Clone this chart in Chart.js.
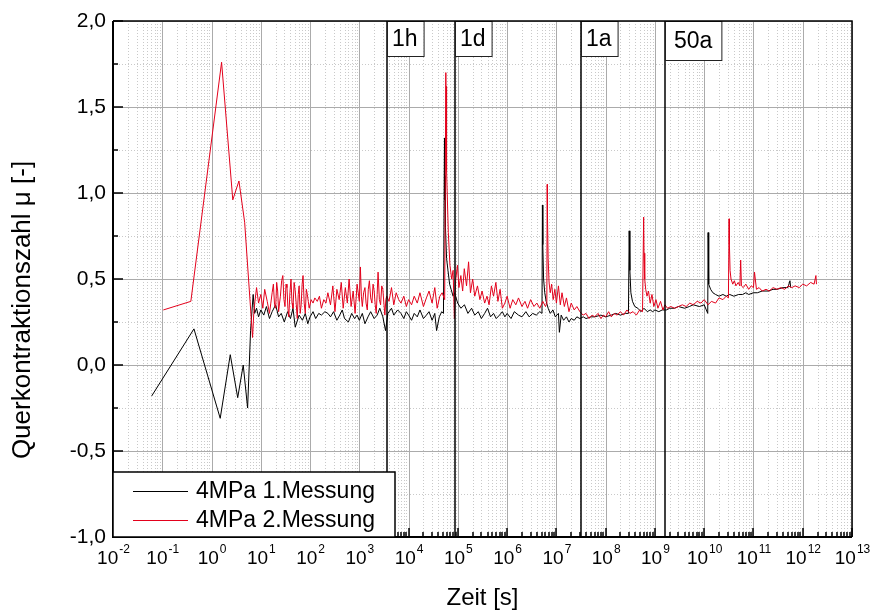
<!DOCTYPE html>
<html>
<head>
<meta charset="utf-8">
<script src="https://cdn.jsdelivr.net/npm/chart.js@4.4.1/dist/chart.umd.min.js"></script>
<style>
html,body{margin:0;padding:0;background:#fff;}
#c{display:block;}
</style>
</head>
<body>
<canvas id="c" width="871" height="613"></canvas>
<script>
// ---------------- data (time in s, Querkontraktionszahl) ----------------
const seriesNames = ['4MPa 1.Messung', '4MPa 2.Messung'];

const messung1 = [
 [6.1e-2,-0.18],[0.44,0.21],[1.5,-0.31],[2.4,0.06],[3.4,-0.19],[4.4,0.00],[5.4,-0.25],[6.2,0.20],[7.0,0.41],
 [7.5,0.30],[8.2,0.33],[9.0,0.28],[10,0.32],[11.5,0.29],[13,0.34],[15,0.27],[17,0.31],[20,0.35],[23,0.28],
 [26,0.30],[30,0.25],[35,0.31],[40,0.27],[45,0.33],[50,0.22],[60,0.29],[70,0.26],[80,0.30],[90,0.24],
 [100,0.28],[115,0.31],[130,0.27],[150,0.30],[170,0.29],[200,0.31],[230,0.30],[260,0.28],[300,0.31],
 [350,0.26],[400,0.29],[450,0.32],[500,0.27],[600,0.25],[700,0.30],[800,0.27],[900,0.29],
 [1000,0.26],[1150,0.30],[1300,0.24],[1500,0.28],[1700,0.31],[2000,0.27],[2300,0.29],[2600,0.33],
 [3000,0.28],[3400,0.20],[3800,0.30],[4500,0.33],[5000,0.29],[6000,0.32],[7000,0.30],[8000,0.27],[9000,0.31],
 [1.0e4,0.29],[1.15e4,0.26],[1.3e4,0.30],[1.5e4,0.28],[1.7e4,0.32],[2.0e4,0.27],[2.3e4,0.29],[2.6e4,0.31],
 [3.0e4,0.26],[3.4e4,0.30],[3.7e4,0.20],[4.2e4,0.28],[4.7e4,0.31],[5.1e4,0.30],
 [5.35e4,1.32],[5.4e4,0.96],[5.5e4,1.10],[5.6e4,0.80],[5.9e4,0.62],[6.3e4,0.55],[6.8e4,0.47],[7.3e4,0.44],
 [8.0e4,0.40],[8.6e4,0.42],[9.9e4,0.36],[1.15e5,0.33],[1.36e5,0.35],
 [1.6e5,0.30],[1.9e5,0.33],[2.2e5,0.29],[2.6e5,0.31],[3.0e5,0.27],[3.5e5,0.30],[4.0e5,0.33],[4.6e5,0.28],
 [5.3e5,0.30],[6.0e5,0.27],[7.0e5,0.29],[8.0e5,0.31],[9.0e5,0.28],
 [1.0e6,0.30],[1.2e6,0.27],[1.4e6,0.31],[1.7e6,0.29],[2.0e6,0.28],[2.4e6,0.31],[2.8e6,0.28],[3.3e6,0.30],
 [3.9e6,0.29],[4.6e6,0.31],[5.1e6,0.30],
 [5.2e6,0.93],[5.3e6,0.70],[5.5e6,0.50],[5.8e6,0.42],[6.2e6,0.37],[6.8e6,0.33],[7.5e6,0.30],[8.5e6,0.32],
 [9.5e6,0.28],[1.1e7,0.30],[1.15e7,0.19],[1.25e7,0.29],[1.4e7,0.26],[1.6e7,0.28],[1.8e7,0.25],[2.0e7,0.27],
 [2.3e7,0.26],[2.6e7,0.28],[3.0e7,0.27],[3.5e7,0.28],[4.0e7,0.27],[5e7,0.28],[6e7,0.28],[8e7,0.29],
 [1e8,0.28],[1.3e8,0.29],[1.6e8,0.30],[2.0e8,0.29],[2.5e8,0.30],[2.9e8,0.30],
 [3.0e8,0.78],[3.1e8,0.55],[3.25e8,0.42],[3.5e8,0.37],[3.9e8,0.34],[4.5e8,0.33],[5.2e8,0.31],[6e8,0.33],
 [7e8,0.31],[8e8,0.32],[9e8,0.31],
 [1.0e9,0.32],[1.2e9,0.31],[1.4e9,0.32],[1.7e9,0.32],[2.0e9,0.33],[2.5e9,0.33],[3e9,0.34],[4e9,0.33],
 [5e9,0.34],[6e9,0.35],[8e9,0.34],[1.0e10,0.35],[1.18e10,0.30],
 [1.2e10,0.77],[1.22e10,0.55],[1.25e10,0.47],[1.35e10,0.44],[1.5e10,0.42],[1.7e10,0.41],[2e10,0.40],
 [2.4e10,0.41],[2.8e10,0.40],[3.3e10,0.41],[4e10,0.40],[5e10,0.41],[6e10,0.41],[7e10,0.42],[8e10,0.41],
 [1e11,0.42],[1.2e11,0.42],[1.5e11,0.43],[2e11,0.43],[2.5e11,0.44],[3e11,0.44],[4e11,0.45],[5e11,0.45],
 [5.5e11,0.49],[5.7e11,0.45]
];

const messung2 = [
 [0.105,0.32],[0.38,0.37],[1.6,1.76],[2.7,0.96],[3.6,1.07],[4.7,0.83],[6.8,0.16],
 [7.2,0.30],[7.6,0.37],[8.2,0.45],[9.0,0.36],
 [10,0.41],[11,0.33],[12,0.44],[13.5,0.37],[15,0.30],[16,0.36],[17,0.42],[18,0.47],[19,0.35],[20,0.33],
 [21,0.48],[22,0.43],[23,0.31],[24,0.36],[25,0.40],[26.5,0.49],[28,0.52],[29.5,0.38],[31,0.34],[32.5,0.47],
 [34,0.45],[35.5,0.33],[37,0.28],[39,0.42],[41,0.50],[43,0.36],[45,0.33],[47.5,0.48],[50,0.43],[52.5,0.35],
 [55,0.27],[57.5,0.41],[60,0.46],[63,0.30],[66,0.35],[69,0.47],[72,0.52],[76,0.36],[80,0.30],[84,0.44],
 [88,0.41],[92,0.37],[96,0.33],
 [105,0.38],[115,0.36],[125,0.39],[140,0.37],[155,0.40],[170,0.33],[190,0.38],[210,0.36],[230,0.42],
 [260,0.35],[290,0.46],[320,0.31],[350,0.44],[390,0.38],[430,0.48],[470,0.33],[520,0.45],[570,0.36],
 [620,0.50],[680,0.34],[750,0.43],[820,0.30],[900,0.47],
 [1000,0.37],[1050,0.57],[1100,0.40],[1150,0.34],[1220,0.42],[1300,0.45],[1370,0.36],[1450,0.32],
 [1520,0.44],[1600,0.49],[1700,0.39],[1800,0.36],[1900,0.47],[2000,0.43],[2100,0.35],[2200,0.30],
 [2300,0.41],[2400,0.54],[2550,0.38],[2700,0.35],[2850,0.46],[3000,0.44],[3150,0.36],[3300,0.29],
 [3450,0.38],[3600,0.40],[4000,0.37],[4500,0.45],
 [5000,0.35],[5600,0.42],[6300,0.38],[7000,0.36],[8000,0.40],[9000,0.34],
 [1.0e4,0.38],[1.15e4,0.35],[1.3e4,0.40],[1.5e4,0.36],[1.7e4,0.42],[2.0e4,0.34],[2.3e4,0.39],[2.6e4,0.43],
 [3.0e4,0.36],[3.4e4,0.45],[3.8e4,0.33],[4.3e4,0.40],[4.8e4,0.42],[5.4e4,0.38],
 [5.7e4,1.70],[5.75e4,1.45],[5.8e4,1.62],[6.0e4,1.13],[6.4e4,0.77],[6.9e4,0.58],[7.5e4,0.50],[8.0e4,0.55],
 [8.5e4,0.27],[9.0e4,0.49],[9.8e4,0.58],[1.05e5,0.45],[1.15e5,0.52],[1.25e5,0.43],[1.35e5,0.56],
 [1.5e5,0.46],[1.65e5,0.60],[1.8e5,0.42],[2.0e5,0.50],[2.2e5,0.40],[2.5e5,0.46],[2.8e5,0.38],[3.1e5,0.43],
 [3.5e5,0.36],[3.9e5,0.40],[4.3e5,0.35],[4.8e5,0.46],[5.3e5,0.40],[5.9e5,0.48],[6.5e5,0.37],[7.2e5,0.44],
 [8.0e5,0.33],[9.0e5,0.36],
 [1.0e6,0.40],[1.15e6,0.33],[1.3e6,0.38],[1.5e6,0.35],[1.7e6,0.39],[2.0e6,0.34],[2.3e6,0.37],[2.6e6,0.33],
 [3.0e6,0.38],[3.5e6,0.34],[4.0e6,0.36],[4.6e6,0.33],[5.3e6,0.37],[6.0e6,0.34],[6.4e6,0.36],
 [6.5e6,1.05],[6.6e6,0.85],[6.8e6,0.62],[7.1e6,0.48],[7.5e6,0.42],[8.0e6,0.47],[8.6e6,0.38],[9.3e6,0.44],
 [1.0e7,0.36],[1.1e7,0.46],[1.2e7,0.35],[1.3e7,0.42],[1.45e7,0.34],[1.6e7,0.39],[1.8e7,0.31],[2.0e7,0.36],
 [2.3e7,0.32],[2.6e7,0.34],[3.0e7,0.31],[3.5e7,0.29],[4.0e7,0.30],[4.6e7,0.27],[5.3e7,0.29],[6.0e7,0.28],
 [7.0e7,0.30],[8.0e7,0.27],[9.0e7,0.29],
 [1.0e8,0.28],[1.15e8,0.31],[1.3e8,0.28],[1.5e8,0.30],[1.7e8,0.29],[2.0e8,0.31],[2.3e8,0.29],[2.7e8,0.32],
 [3.1e8,0.30],[3.6e8,0.31],[4.2e8,0.29],[4.9e8,0.32],[5.6e8,0.31],
 [5.9e8,0.86],[6.0e8,0.65],[6.2e8,0.50],[6.5e8,0.44],[6.9e8,0.40],[7.4e8,0.43],[8.0e8,0.36],[8.7e8,0.41],
 [9.5e8,0.34],[1.05e9,0.38],[1.15e9,0.33],[1.3e9,0.37],[1.45e9,0.32],[1.6e9,0.35],[1.8e9,0.33],[2.1e9,0.34],
 [2.5e9,0.33],[3.0e9,0.34],[3.6e9,0.35],[4.3e9,0.34],[5.1e9,0.36],[6.0e9,0.35],[7.2e9,0.37],[8.6e9,0.36],
 [1.0e10,0.38],[1.2e10,0.35],[1.4e10,0.37],[1.7e10,0.36],[2.0e10,0.39],[2.4e10,0.38],[2.8e10,0.40],[3.1e10,0.39],
 [3.2e10,0.85],[3.25e10,0.70],[3.35e10,0.55],[3.5e10,0.50],[3.8e10,0.47],[4.1e10,0.49],[4.4e10,0.46],
 [4.9e10,0.48],[5.3e10,0.46],[5.5e10,0.61],[5.7e10,0.46],[6.2e10,0.45],[7e10,0.47],[8e10,0.44],[9e10,0.46],
 [1.0e11,0.45],[1.05e11,0.54],[1.15e11,0.44],[1.3e11,0.45],[1.5e11,0.43],[1.8e11,0.44],[2.1e11,0.43],
 [2.5e11,0.45],[3e11,0.44],[3.6e11,0.45],[4.3e11,0.44],[5.1e11,0.46],[6e11,0.45],[7e11,0.46],[8.5e11,0.45],
 [1e12,0.47],[1.2e12,0.46],[1.45e12,0.48],[1.7e12,0.47],[1.85e12,0.52],[1.9e12,0.47]
];

// axis ticks
const xDecades = [-2,-1,0,1,2,3,4,5,6,7,8,9,10,11,12,13];
const yTickValues = [-1,-0.5,0,0.5,1,1.5,2];
const yMinorValues = [-0.75,-0.25,0.25,0.75,1.25,1.75];

// time markers
const markerLabels = ['1h','1d','1a','50a'];
const markerTimes = [3600, 86400, 31536000, 1576800000];

const xTitle = 'Zeit [s]';
const yTitle = 'Querkontraktionszahl \u03bc [-]';

// ---------------- styles ----------------
const FONT = '"Liberation Sans", Arial, sans-serif';
const colors = ['#000000', '#e3001b'];

const decorations = {
  id: 'decorations',
  beforeDatasetsDraw(chart) {
    const {ctx, chartArea: a, scales: {x, y}} = chart;
    ctx.save();
    ctx.lineWidth = 1;
    // minor dotted grid
    ctx.strokeStyle = '#c9c9c9';
    ctx.setLineDash([1, 2]);
    ctx.beginPath();
    for (let i = 0; i < xDecades.length - 1; i++) {
      for (let m = 2; m <= 9; m++) {
        const px = Math.round(x.getPixelForValue(m * Math.pow(10, xDecades[i]))) + 0.5;
        ctx.moveTo(px, a.top); ctx.lineTo(px, a.bottom);
      }
    }
    for (const v of yMinorValues) {
      const py = Math.round(y.getPixelForValue(v)) + 0.5;
      ctx.moveTo(a.left, py); ctx.lineTo(a.right, py);
    }
    ctx.stroke();
    // major grid
    ctx.setLineDash([]);
    ctx.strokeStyle = '#ababab';
    ctx.beginPath();
    for (const e of xDecades) {
      const px = Math.round(x.getPixelForValue(Math.pow(10, e))) + 0.5;
      ctx.moveTo(px, a.top); ctx.lineTo(px, a.bottom);
    }
    for (const v of yTickValues) {
      const py = Math.round(y.getPixelForValue(v)) + 0.5;
      ctx.moveTo(a.left, py); ctx.lineTo(a.right, py);
    }
    ctx.stroke();
    ctx.restore();
  },
  afterDatasetsDraw(chart) {
    const {ctx, chartArea: a, scales: {x, y}} = chart;
    ctx.save();
    // time markers
    ctx.strokeStyle = '#000';
    ctx.lineWidth = 1.5;
    markerTimes.forEach((t, i) => {
      const px = Math.round(x.getPixelForValue(t));
      ctx.beginPath(); ctx.moveTo(px, a.top); ctx.lineTo(px, a.bottom); ctx.stroke();
    });
    ctx.font = '23px ' + FONT;
    ctx.textBaseline = 'middle';
    ctx.textAlign = 'left';
    markerTimes.forEach((t, i) => {
      const px = Math.round(x.getPixelForValue(t));
      const big = markerLabels[i].length > 2;
      const w = ctx.measureText(markerLabels[i]).width + (big ? 18 : 11);
      const h = big ? 39 : 35;
      ctx.fillStyle = '#fff';
      ctx.fillRect(px, a.top, w, h);
      ctx.lineWidth = 1;
      ctx.strokeStyle = '#222';
      ctx.strokeRect(px + 0.5, a.top + 0.5, w, h);
      ctx.fillStyle = '#000';
      ctx.fillText(markerLabels[i], px + (big ? 9 : 5), a.top + h / 2 + 1);
    });
    // frame
    ctx.strokeStyle = '#000';
    ctx.lineWidth = 1.5;
    ctx.beginPath();
    ctx.moveTo(a.left, a.top); ctx.lineTo(a.right, a.top); ctx.lineTo(a.right, a.bottom);
    ctx.stroke();
    ctx.lineWidth = 2;
    ctx.beginPath();
    ctx.moveTo(a.left, a.top); ctx.lineTo(a.left, a.bottom); ctx.lineTo(a.right, a.bottom);
    ctx.stroke();
    // inward ticks
    ctx.lineWidth = 1.5;
    ctx.beginPath();
    for (let i = 0; i < xDecades.length; i++) {
      const px = Math.round(x.getPixelForValue(Math.pow(10, xDecades[i])));
      ctx.moveTo(px, a.bottom); ctx.lineTo(px, a.bottom - 9);
      if (i < xDecades.length - 1) {
        for (let m = 2; m <= 9; m++) {
          const pm = Math.round(x.getPixelForValue(m * Math.pow(10, xDecades[i])));
          ctx.moveTo(pm, a.bottom); ctx.lineTo(pm, a.bottom - 5);
        }
      }
    }
    for (const v of yTickValues) {
      const py = Math.round(y.getPixelForValue(v));
      ctx.moveTo(a.left, py); ctx.lineTo(a.left + 10, py);
    }
    for (const v of yMinorValues) {
      const py = Math.round(y.getPixelForValue(v));
      ctx.moveTo(a.left, py); ctx.lineTo(a.left + 5, py);
    }
    ctx.stroke();
    // x tick labels 10^n
    ctx.fillStyle = '#000';
    ctx.textBaseline = 'middle';
    ctx.textAlign = 'left';
    for (const e of xDecades) {
      const px = x.getPixelForValue(Math.pow(10, e));
      ctx.font = '19px ' + FONT;
      const wb = ctx.measureText('10').width;
      const ex = e < 0 ? '-' + Math.abs(e) : String(e);
      ctx.font = '12px ' + FONT;
      const we = ctx.measureText(ex).width;
      const x0 = px - (wb + we) / 2;
      ctx.font = '19px ' + FONT;
      ctx.fillText('10', x0, a.bottom + 22);
      ctx.font = '12px ' + FONT;
      ctx.fillText(ex, x0 + wb + 1, a.bottom + 13);
    }
    // legend
    const lx = a.left, ly = a.bottom - 65, lw = 282, lh = 65;
    ctx.fillStyle = '#fff';
    ctx.fillRect(lx, ly, lw, lh);
    ctx.strokeStyle = '#000';
    ctx.lineWidth = 1.5;
    ctx.strokeRect(lx, ly, lw, lh);
    ctx.font = '23px ' + FONT;
    seriesNames.forEach((n, i) => {
      const yy = ly + 19 + i * 29;
      ctx.strokeStyle = colors[i];
      ctx.lineWidth = 1;
      ctx.beginPath(); ctx.moveTo(lx + 20, yy + 0.5); ctx.lineTo(lx + 75, yy + 0.5); ctx.stroke();
      ctx.fillStyle = '#000';
      ctx.fillText(n, lx + 83, yy + 1);
    });
    // titles
    ctx.textAlign = 'center';
    ctx.font = '24px ' + FONT;
    ctx.fillText(xTitle, (a.left + a.right) / 2, 598);
    ctx.save();
    ctx.translate(23, 310);
    ctx.rotate(-Math.PI / 2);
    ctx.font = '26px ' + FONT;
    ctx.fillText(yTitle, 0, 0);
    ctx.restore();
    ctx.restore();
  }
};

const toPoints = arr => arr.map(p => ({x: p[0], y: p[1]}));

new Chart(document.getElementById('c'), {
  type: 'line',
  data: {
    datasets: [
      {label: seriesNames[0], data: toPoints(messung1), borderColor: colors[0], borderWidth: 1,
       pointRadius: 0, tension: 0, order: 1},
      {label: seriesNames[1], data: toPoints(messung2), borderColor: colors[1], borderWidth: 1,
       pointRadius: 0, tension: 0, order: 0}
    ]
  },
  options: {
    responsive: false,
    animation: false,
    layout: {padding: {top: 21, right: 19, left: 0, bottom: 0}},
    plugins: {legend: {display: false}, tooltip: {enabled: false}},
    scales: {
      x: {
        type: 'logarithmic', min: 1e-2, max: 1e13,
        grid: {display: false}, border: {display: false},
        ticks: {display: false},
        afterFit(s) { s.height = 76; }
      },
      y: {
        min: -1, max: 2,
        grid: {display: false, drawTicks: false}, border: {display: false},
        afterBuildTicks(s) { s.ticks = yTickValues.map(v => ({value: v})); },
        ticks: {
          color: '#000', padding: 7,
          font: {size: 21, family: FONT},
          callback: v => v.toFixed(1).replace('.', ',')
        },
        afterFit(s) { s.width = 113; }
      }
    }
  },
  plugins: [decorations]
});
</script>
</body>
</html>
